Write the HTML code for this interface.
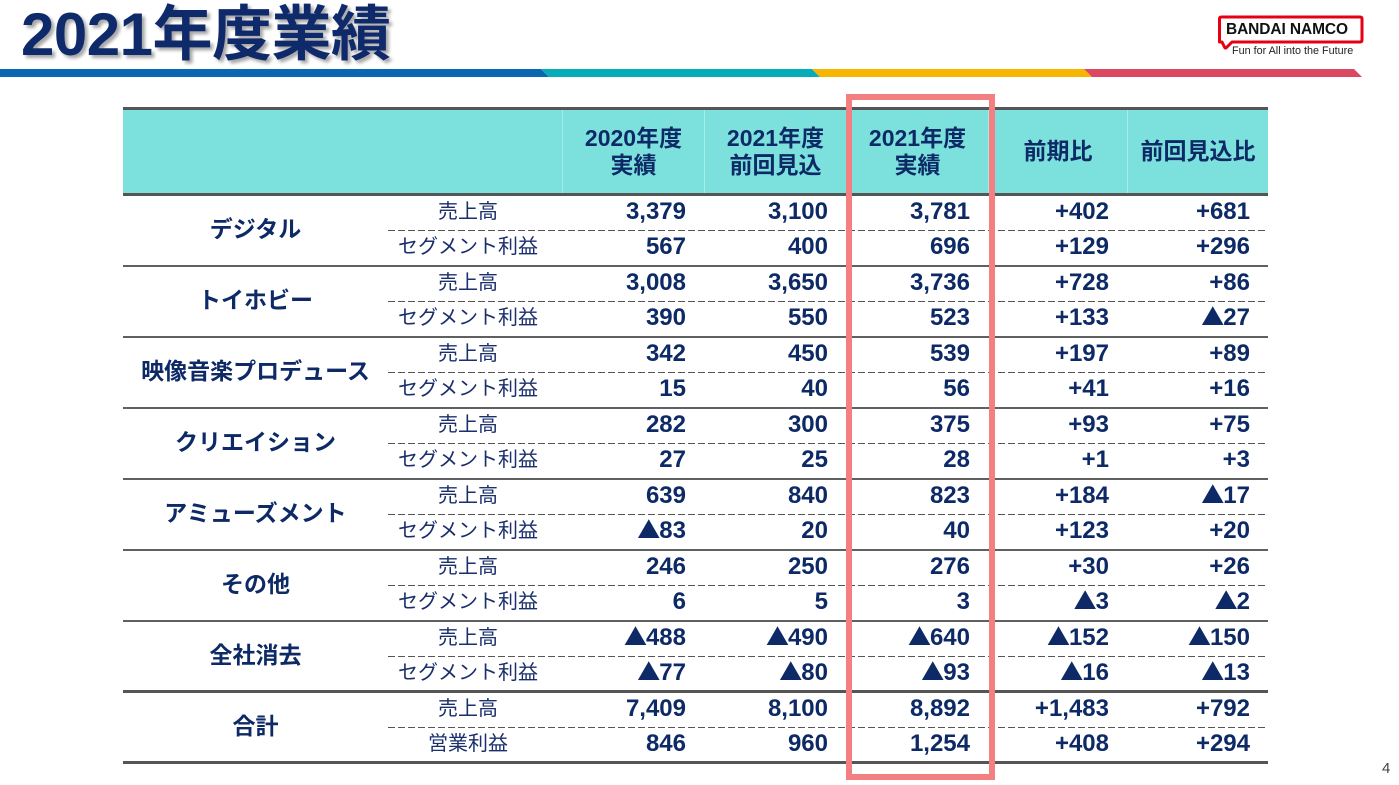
<!DOCTYPE html>
<html lang="ja">
<head>
<meta charset="utf-8">
<style>
  html, body { margin:0; padding:0; }
  body { width:1399px; height:785px; background:#ffffff; position:relative; overflow:hidden;
         font-family:"Liberation Sans","Noto Sans CJK JP",sans-serif; color:#0d2a66; }
  .title { position:absolute; left:21px; top:5px; height:60px; line-height:60px; font-size:60px; font-weight:bold;
           color:#0f2a6b; letter-spacing:-0.5px; white-space:nowrap;
           text-shadow:3px 3px 3px rgba(0,0,0,0.35); }
  .bars { position:absolute; left:0; top:0; }
  .logo-t1 { position:absolute; left:1226px; top:21px; font-size:15.5px; font-weight:bold; color:#111; line-height:18px; letter-spacing:-0.1px; white-space:nowrap; }
  .logo-t2 { position:absolute; left:1232px; top:45px; font-size:10.8px; color:#222; line-height:13px; white-space:nowrap; }
  .pn { position:absolute; left:1382px; top:761px; font-size:15px; color:#444; line-height:16px; }

  #tbl { position:absolute; left:123px; top:107px; width:1145px; }
  .hdr { box-sizing:border-box; height:89px; border-top:3px solid #555; border-bottom:3px solid #555;
         background:#7ce0dd; display:grid; grid-template-columns:439px 142px 142px 142px 139px 141px; }
  .hdr div { display:flex; align-items:center; justify-content:center; text-align:center;
             font-size:23px; font-weight:bold; line-height:27px; color:#0d2a66; border-left:1px solid rgba(255,255,255,0.35); }
  .hdr div:first-child { border-left:none; }
  .grp { box-sizing:border-box; height:71px; border-bottom:2px solid #606060; display:grid; grid-template-columns:265px 880px; }
  .grp.thick { border-bottom:3px solid #555; }
  .seg { display:flex; align-items:center; justify-content:center; font-size:23px; font-weight:bold; color:#0d2a66; white-space:nowrap; padding-bottom:8px; box-sizing:border-box; }
  .rows { position:relative; }
  .row { display:grid; grid-template-columns:174px 142px 142px 142px 139px 141px; height:34px; line-height:32px; }
  .dash { height:1px; background:repeating-linear-gradient(to right,#555 0,#555 7px,transparent 7px,transparent 10px); }
  .row .lab { text-align:center; font-size:20px; font-weight:normal; color:#1a2f6b; white-space:nowrap; padding-right:14px; }
  .row .n { text-align:right; padding-right:18px; font-size:24px; font-weight:bold; color:#0d2a66; white-space:nowrap; }
  .t { font-family:"Noto Sans CJK JP",sans-serif; font-size:23px; font-weight:bold; letter-spacing:-1px; line-height:0; }
  .redbox { position:absolute; left:846px; top:94px; width:149px; height:686px; box-sizing:border-box;
            border:6px solid #f47f80; }
</style>
</head>
<body>

<div class="title">2021年度業績</div>

<svg class="bars" width="1399" height="90" viewBox="0 0 1399 90">
  <polygon points="0,69 541,69 549,77 0,77" fill="#0b67b2"/>
  <polygon points="541,69 812,69 820,77 549,77" fill="#06adb9"/>
  <polygon points="812,69 1084,69 1092,77 820,77" fill="#f5b500"/>
  <polygon points="1084,69 1354,69 1362,77 1092,77" fill="#dc4762"/>
  <path d="M1222,42 L1219.5,42 L1219.5,19 Q1219.5,17 1221.5,17 L1360,17 Q1362,17 1362,19 L1362,40 Q1362,42 1360,42 L1232,42 L1226,48 L1225,48 Z" fill="none" stroke="#e60012" stroke-width="3" stroke-linejoin="round"/>
</svg>
<div class="logo-t1">BANDAI NAMCO</div>
<div class="logo-t2">Fun for All into the Future</div>

<div id="tbl">
  <div class="hdr">
    <div></div>
    <div>2020年度<br>実績</div>
    <div>2021年度<br>前回見込</div>
    <div>2021年度<br>実績</div>
    <div>前期比</div>
    <div>前回見込比</div>
  </div>

  <div class="grp"><div class="seg">デジタル</div><div class="rows">
    <div class="row"><div class="lab">売上高</div><div class="n">3,379</div><div class="n">3,100</div><div class="n">3,781</div><div class="n">+402</div><div class="n">+681</div></div>
    <div class="dash"></div>
    <div class="row"><div class="lab">セグメント利益</div><div class="n">567</div><div class="n">400</div><div class="n">696</div><div class="n">+129</div><div class="n">+296</div></div>
  </div></div>

  <div class="grp"><div class="seg">トイホビー</div><div class="rows">
    <div class="row"><div class="lab">売上高</div><div class="n">3,008</div><div class="n">3,650</div><div class="n">3,736</div><div class="n">+728</div><div class="n">+86</div></div>
    <div class="dash"></div>
    <div class="row"><div class="lab">セグメント利益</div><div class="n">390</div><div class="n">550</div><div class="n">523</div><div class="n">+133</div><div class="n"><span class="t">▲</span>27</div></div>
  </div></div>

  <div class="grp"><div class="seg">映像音楽プロデュース</div><div class="rows">
    <div class="row"><div class="lab">売上高</div><div class="n">342</div><div class="n">450</div><div class="n">539</div><div class="n">+197</div><div class="n">+89</div></div>
    <div class="dash"></div>
    <div class="row"><div class="lab">セグメント利益</div><div class="n">15</div><div class="n">40</div><div class="n">56</div><div class="n">+41</div><div class="n">+16</div></div>
  </div></div>

  <div class="grp"><div class="seg">クリエイション</div><div class="rows">
    <div class="row"><div class="lab">売上高</div><div class="n">282</div><div class="n">300</div><div class="n">375</div><div class="n">+93</div><div class="n">+75</div></div>
    <div class="dash"></div>
    <div class="row"><div class="lab">セグメント利益</div><div class="n">27</div><div class="n">25</div><div class="n">28</div><div class="n">+1</div><div class="n">+3</div></div>
  </div></div>

  <div class="grp"><div class="seg">アミューズメント</div><div class="rows">
    <div class="row"><div class="lab">売上高</div><div class="n">639</div><div class="n">840</div><div class="n">823</div><div class="n">+184</div><div class="n"><span class="t">▲</span>17</div></div>
    <div class="dash"></div>
    <div class="row"><div class="lab">セグメント利益</div><div class="n"><span class="t">▲</span>83</div><div class="n">20</div><div class="n">40</div><div class="n">+123</div><div class="n">+20</div></div>
  </div></div>

  <div class="grp"><div class="seg">その他</div><div class="rows">
    <div class="row"><div class="lab">売上高</div><div class="n">246</div><div class="n">250</div><div class="n">276</div><div class="n">+30</div><div class="n">+26</div></div>
    <div class="dash"></div>
    <div class="row"><div class="lab">セグメント利益</div><div class="n">6</div><div class="n">5</div><div class="n">3</div><div class="n"><span class="t">▲</span>3</div><div class="n"><span class="t">▲</span>2</div></div>
  </div></div>

  <div class="grp thick"><div class="seg">全社消去</div><div class="rows">
    <div class="row"><div class="lab">売上高</div><div class="n"><span class="t">▲</span>488</div><div class="n"><span class="t">▲</span>490</div><div class="n"><span class="t">▲</span>640</div><div class="n"><span class="t">▲</span>152</div><div class="n"><span class="t">▲</span>150</div></div>
    <div class="dash"></div>
    <div class="row"><div class="lab">セグメント利益</div><div class="n"><span class="t">▲</span>77</div><div class="n"><span class="t">▲</span>80</div><div class="n"><span class="t">▲</span>93</div><div class="n"><span class="t">▲</span>16</div><div class="n"><span class="t">▲</span>13</div></div>
  </div></div>

  <div class="grp thick"><div class="seg">合計</div><div class="rows">
    <div class="row"><div class="lab">売上高</div><div class="n">7,409</div><div class="n">8,100</div><div class="n">8,892</div><div class="n">+1,483</div><div class="n">+792</div></div>
    <div class="dash"></div>
    <div class="row"><div class="lab">営業利益</div><div class="n">846</div><div class="n">960</div><div class="n">1,254</div><div class="n">+408</div><div class="n">+294</div></div>
  </div></div>
</div>

<div class="redbox"></div>
<div class="pn">4</div>

</body>
</html>
